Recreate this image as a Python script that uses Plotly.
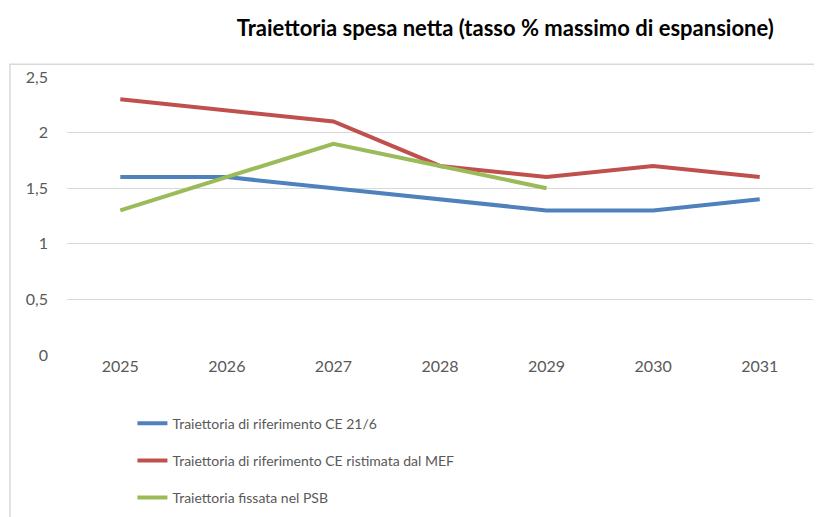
import plotly.graph_objects as go

# Data
anni = ['2025', '2026', '2027', '2028', '2029', '2030', '2031']
rif_ce = [1.6, 1.6, 1.5, 1.4, 1.3, 1.3, 1.4]
rif_mef = [2.3, 2.2, 2.1, 1.7, 1.6, 1.7, 1.6]
psb = [1.3, 1.6, 1.9, 1.7, 1.5]

font_fam = 'Lato, Open Sans, sans-serif'

trace1 = go.Scatter(x=anni, y=rif_ce, mode='lines', name='Traiettoria di riferimento CE 21/6',
                    line=dict(color='#4F81BD', width=4), legendgroup='a')
trace2 = go.Scatter(x=anni, y=rif_mef, mode='lines', name='Traiettoria di riferimento CE ristimata dal MEF',
                    line=dict(color='#C0504D', width=4), legendgroup='b')
trace3 = go.Scatter(x=anni[:len(psb)], y=psb, mode='lines', name='Traiettoria fissata nel PSB',
                    line=dict(color='#9BBB59', width=4), legendgroup='c')

layout = go.Layout(
    width=822, height=517,
    margin=dict(l=59, r=17, t=69, b=169),
    paper_bgcolor='white', plot_bgcolor='white',
    font=dict(family=font_fam, size=16, color='#595959'),
    title=dict(text='<b>Traiettoria spesa netta (tasso % massimo di espansione)</b>',
               x=0.605, xref='container', xanchor='center',
               y=0.961, yref='container', yanchor='middle',
               font=dict(family=font_fam, size=22, color='black')),
    xaxis=dict(type='category', range=[-0.5, 6.5], showgrid=False, showline=False, ticks='',
               tickfont=dict(size=16)),
    yaxis=dict(range=[0, 2.5], dtick=0.5, showgrid=True, gridcolor='#D9D9D9', gridwidth=1,
               zeroline=False, showline=False, ticks='', tickformat='.1~f', ticklabelstandoff=18),
    separators=',.',
    showlegend=True,
    legend=dict(orientation='v', x=0.0877, y=-0.185, xanchor='left', yanchor='top',
                tracegroupgap=16, font=dict(size=14, color='#595959'),
                bgcolor='rgba(0,0,0,0)'),
    shapes=[dict(type='rect', xref='paper', yref='paper',
                 x0=-0.0764, x1=1.03, y0=-0.65, y1=1.046,
                 line=dict(color='#D9D9D9', width=1.5), layer='below')],
)

fig = go.Figure(data=[trace1, trace2, trace3], layout=layout)
fig.write_html("out.html")
